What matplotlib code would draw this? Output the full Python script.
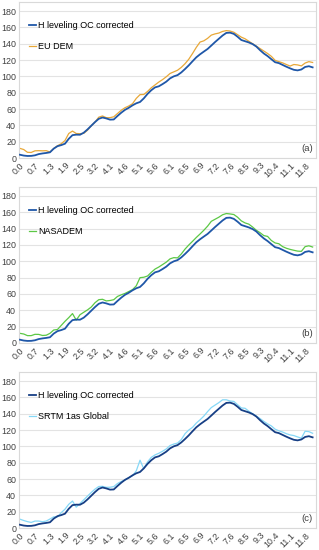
import numpy as np
import matplotlib
matplotlib.use("Agg")
import matplotlib.pyplot as plt

plt.rcParams['font.family'] = ['Liberation Sans', 'DejaVu Sans']

# distance labels (km), one every 4 points
tick_labels = ['0.0', '0.7', '1.3', '1.9', '2.5', '3.2', '4.1', '4.6', '5.1', '5.6',
               '6.1', '6.5', '6.9', '7.2', '7.6', '8.5', '9.3', '10.4', '11.1', '11.8']
tick_step = 4

h_leveling = [4.0, 3.0, 2.5, 2.6, 3.3, 4.8, 5.6, 6.2, 7.0, 11.5,
              14.5, 15.8, 17.5, 23.5, 28.0, 28.6, 28.5, 31.0, 35.0, 39.5,
              44.0, 48.0, 49.6, 48.5, 47.0, 47.2, 51.5, 55.5, 59.0, 61.5,
              64.5, 67.0, 68.6, 73.0, 78.5, 83.0, 86.5, 87.8, 90.5, 93.5,
              97.5, 100.0, 101.5, 104.8, 109.0, 113.5, 118.5, 123.3, 127.0, 130.3,
              133.5, 137.7, 142.0, 146.0, 150.0, 153.2, 153.5, 152.0, 148.5, 144.5,
              143.0, 141.5, 139.5, 136.5, 132.0, 128.0, 124.8, 121.0, 117.3, 116.2,
              114.0, 111.8, 109.8, 108.0, 107.3, 108.4, 111.5, 112.4, 111.0]

eu_dem = [11.8, 10.4, 7.0, 6.8, 8.8, 9.0, 8.8, 9.0, 7.3, 11.6,
          15.0, 17.5, 21.4, 30.0, 33.0, 30.0, 29.8, 30.2, 34.0, 39.5,
          44.0, 50.0, 51.5, 49.4, 49.4, 50.5, 54.5, 58.5, 61.6, 63.7,
          66.5, 73.0, 77.6, 77.8, 81.5, 86.0, 89.5, 93.0, 96.0, 99.5,
          103.5, 105.5, 107.5, 111.0, 115.5, 121.0, 128.0, 135.5, 142.0, 143.5,
          146.5, 150.5, 152.0, 153.0, 155.0, 156.0, 155.5, 154.0, 151.0, 148.0,
          146.0, 143.0, 140.0, 137.0, 134.0, 131.0, 128.0, 124.5, 119.6, 118.0,
          116.5, 114.5, 112.6, 114.5, 114.0, 112.8, 116.3, 118.0, 117.0]

nasadem = [11.8, 11.0, 9.0, 9.0, 10.6, 10.5, 9.2, 9.5, 11.8, 15.9,
           16.5, 21.5, 26.5, 31.0, 36.0, 28.0, 34.6, 37.6, 40.5, 44.0,
           49.3, 53.0, 53.5, 51.5, 52.0, 53.0, 57.0, 59.0, 60.7, 63.0,
           65.3, 70.0, 80.0, 80.5, 82.0, 86.5, 90.5, 93.0, 96.0, 99.0,
           103.0, 104.5, 104.2, 109.0, 115.0, 120.0, 124.5, 129.2, 133.5, 138.0,
           143.0, 149.0, 151.5, 154.0, 157.0, 158.5, 158.0, 157.3, 154.0, 149.5,
           147.0, 145.5, 142.0, 138.0, 135.0, 131.5, 130.5, 125.5, 122.5, 121.5,
           118.0, 116.0, 114.6, 113.5, 112.5, 112.2, 118.0, 119.0, 117.5]

srtm = [10.8, 9.2, 7.8, 6.8, 8.5, 8.5, 7.7, 8.5, 11.0, 13.7,
        13.5, 18.8, 23.0, 29.0, 33.0, 25.5, 30.0, 34.5, 39.0, 43.5,
        47.6, 50.8, 51.0, 49.8, 49.9, 50.7, 54.5, 57.0, 58.6, 61.6,
        64.0, 70.0, 83.0, 72.5, 81.0, 86.5, 89.5, 91.5, 94.0, 96.8,
        101.0, 102.8, 104.0, 108.3, 115.5, 120.0, 123.3, 128.5, 132.5, 137.0,
        142.5, 147.5, 150.5, 153.5, 157.0, 157.0, 155.5, 155.0, 151.0, 147.0,
        146.6, 143.0, 140.0, 137.0, 134.0, 130.5, 127.5, 125.0, 121.0, 119.0,
        117.5, 115.5, 114.0, 113.2, 111.5, 110.0, 118.5, 118.0, 116.0]

paineis = [
    ('EU DEM', eu_dem, '#e8a838', '(a)'),
    ('NASADEM', nasadem, '#5cc845', '(b)'),
    ('SRTM 1as Global', srtm, '#86d8f7', '(c)'),
]
cores_h = ['#1f57a8', '#1f57a8', '#173f85']

fig = plt.figure(figsize=(3.19, 5.5), dpi=100)
bottoms = [0.7127, 0.3764, 0.04]
x = np.arange(len(h_leveling))

for k, (nome, serie, cor, letra) in enumerate(paineis):
    ax = fig.add_axes([0.0596, bottoms[k], 0.931, 0.2836])
    ax.plot(x, h_leveling, color=cores_h[k], lw=1.3, label='H leveling OC corrected', zorder=3)
    ax.plot(x, serie, color=cor, lw=0.9, label=nome, zorder=2)

    ax.set_xlim(-0.25, len(h_leveling) - 0.1)
    ax.set_ylim(0, 191)
    ax.set_yticks(range(0, 181, 20))
    ax.set_xticks(x[::tick_step])
    ax.set_xticklabels(tick_labels, rotation=45, ha='right', va='top',
                       rotation_mode='anchor')
    ax.tick_params(length=0, labelsize=6.4, colors='#404040', pad=2)
    ax.grid(axis='y', color='#e3e3e3', lw=0.8)
    ax.set_axisbelow(True)
    for s in ax.spines.values():
        s.set_color('#d9d9d9')
        s.set_linewidth(0.8)

    # legenda sem moldura no canto superior esquerdo
    ax.legend(loc='upper left', bbox_to_anchor=(0.02, 0.90), frameon=False,
              fontsize=6.5, handlelength=0.8, handletextpad=0.3,
              labelspacing=1.3, borderaxespad=0)
    ax.text(0.99, 0.03, letra, transform=ax.transAxes, ha='right', va='bottom',
            fontsize=6.8, color='#404040')

fig.savefig('out.png', dpi=100)
